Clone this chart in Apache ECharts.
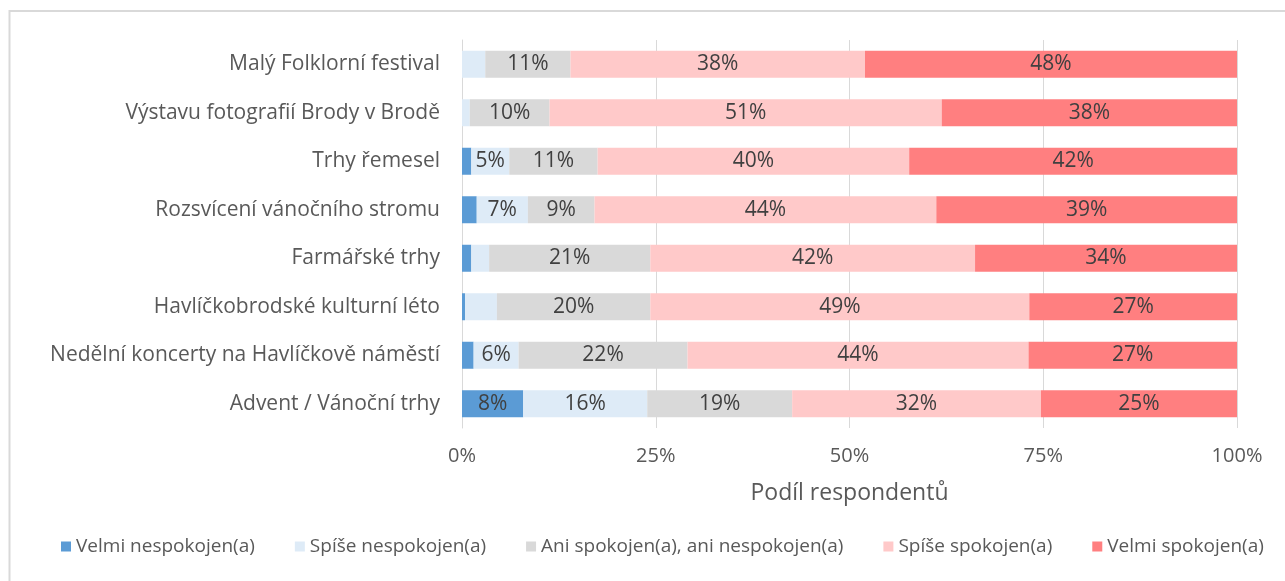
<!DOCTYPE html>
<html>
<head>
<meta charset="utf-8">
<script src="https://cdn.jsdelivr.net/npm/echarts@6/dist/echarts.min.js"></script>
<style>
html,body{margin:0;padding:0;background:#fff;}
#c{width:1285px;height:581px;}
</style>
</head>
<body>
<div id="c"></div>
<script>
const categories = [
  "Malý Folklorní festival",
  "Výstavu fotografií Brody v Brodě",
  "Trhy řemesel",
  "Rozsvícení vánočního stromu",
  "Farmářské trhy",
  "Havlíčkobrodské kulturní léto",
  "Nedělní koncerty na Havlíčkově náměstí",
  "Advent / Vánoční trhy"
];
const seriesNames = [
  "Velmi nespokojen(a)",
  "Spíše nespokojen(a)",
  "Ani spokojen(a), ani nespokojen(a)",
  "Spíše spokojen(a)",
  "Velmi spokojen(a)"
];
const velmiNespokojen = [0, 0, 1.2, 1.9, 1.2, 0.4, 1.5, 7.9];
const spiseNespokojen = [3.0, 1.0, 4.9, 6.6, 2.3, 4.1, 5.8, 16.0];
const ani = [11.0, 10.3, 11.4, 8.6, 20.8, 19.8, 21.8, 18.7];
const spiseSpokojen = [38.0, 50.6, 40.2, 44.1, 41.9, 48.9, 44.0, 32.1];
const velmiSpokojen = [48.0, 38.1, 42.3, 38.8, 33.8, 26.8, 26.9, 25.3];
const xTicks = [0, 25, 50, 75, 100];

const colors = ["#5B9BD5", "#DEEBF7", "#D9D9D9", "#FFC9C9", "#FF7F80"];
const values = [velmiNespokojen, spiseNespokojen, ani, spiseSpokojen, velmiSpokojen];
const FONT = "Open Sans";

const series = values.map((arr, i) => ({
  name: seriesNames[i],
  type: 'bar',
  stack: 'total',
  data: arr,
  barWidth: 27,
  itemStyle: { color: colors[i] },
  label: {
    show: true,
    position: 'inside',
    color: '#404040',
    fontFamily: FONT,
    fontSize: 21,
    formatter: p => p.value >= 4.5 ? Math.round(p.value) + '%' : ''
  }
}));

const chart = echarts.init(document.getElementById('c'), null, {renderer: 'canvas'});
chart.setOption({
  animation: false,
  color: colors,
  graphic: [{
    type: 'rect',
    shape: {x: 9.5, y: 11, width: 1300, height: 600},
    style: {fill: 'none', stroke: '#D9D9D9', lineWidth: 2},
    silent: true
  }],
  grid: { left: 462, right: 48, top: 40, bottom: 153 },
  legend: {
    bottom: 20,
    left: 56,
    itemWidth: 10,
    itemHeight: 10,
    itemGap: 40,
    icon: 'rect',
    textStyle: { color: '#595959', fontFamily: FONT, fontSize: 19 },
    data: seriesNames
  },
  xAxis: {
    type: 'value',
    min: 0,
    max: 100,
    interval: 25,
    axisLine: { show: false },
    axisTick: { show: false },
    splitLine: { show: true, lineStyle: { color: '#D9D9D9', width: 1 } },
    axisLabel: {
      color: '#595959', fontFamily: FONT, fontSize: 20, margin: 18,
      formatter: v => xTicks.includes(v) ? v + '%' : ''
    },
    name: 'Podíl respondentů',
    nameLocation: 'middle',
    nameGap: 54,
    nameTextStyle: { color: '#595959', fontFamily: FONT, fontSize: 23 }
  },
  yAxis: {
    type: 'category',
    data: categories,
    inverse: true,
    axisLine: { show: true, lineStyle: { color: '#D9D9D9', width: 1 } },
    axisTick: { show: false },
    axisLabel: { color: '#595959', fontFamily: FONT, fontSize: 21, margin: 22 }
  },
  series: series
});
</script>
</body>
</html>
